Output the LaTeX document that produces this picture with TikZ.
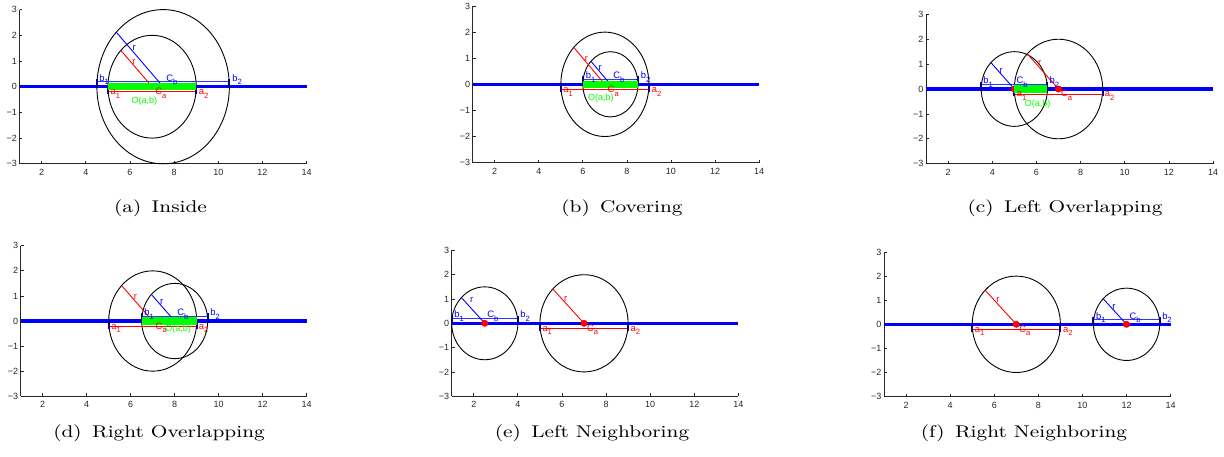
\documentclass[tikz,border=0pt]{standalone}
\usepackage{graphicx}
\usepackage{fontspec}
\newfontfamily\plotfont{Liberation Sans}
\usepackage{tikz}
\usetikzlibrary{positioning}
\definecolor{axisgray}{HTML}{262626}
\definecolor{barblue}{HTML}{00008C}
\definecolor{ovgreen}{HTML}{00FF00}

\newcommand\lsub[1]{\raisebox{-1.9pt}{\fontsize{3.8}{4}\selectfont #1}}
% axes, ticks and tick labels of one panel
\newcommand\panelaxes[1]{%
  \draw[axisline] (1,-3) -- (14,-3);
  \draw[axisline] (1,-3) -- (1,3);
  \foreach \t in {2,4,...,14} {
    \draw[axisline] (\t,-3) -- ++(0pt,1.4pt);
    \node[ticklbl, yshift=-4.3pt] (#1-xt\t) at (\t,-3) {\t};
  }
  \foreach \t/\s in {-3/−3,-2/−2,-1/−1,0/0,1/1,2/2,3/3} {
    \draw[axisline] (1,\t) -- ++(1.4pt,0pt);
    \node[ticklbl, anchor=east, xshift=-1.1pt] (#1-yt\t) at (1,\t) {\s};
  }
  \draw[mainline] (1,0) -- (14,0);
}

\begin{document}
\begin{tikzpicture}[
 axisline/.style={draw=axisgray, line width=0.4pt},
 ticklbl/.style={font=\plotfont\fontsize{4.5}{5}\selectfont, text=axisgray, inner sep=0pt},
 mainline/.style={blue, line width=1.65pt},
 circ/.style={black, line width=0.45pt},
 bline/.style={blue!80, line width=0.45pt},
 aline/.style={red, line width=0.45pt},
 endbar/.style={barblue, line width=1pt},
 ovbar/.style={ovgreen, line width=3.65pt},
 lbl/.style={font=\plotfont\fontsize{4.7}{5}\selectfont, inner sep=0pt, anchor=base west},
 rlbl/.style={font=\plotfont\fontsize{4.7}{5}\selectfont, inner sep=0pt},
 olbl/.style={font=\plotfont\fontsize{4.5}{5}\selectfont, inner sep=0pt, text=ovgreen},
 captext/.style={font=\fontsize{8.5}{10}\selectfont, anchor=base, inner sep=0pt}]
\useasboundingbox (0pt,0pt) rectangle (612pt,-228pt);

% (a) Inside
\begin{scope}[shift={(-1.24pt,-43.35pt)}, x=11.04pt, y=12.85pt]
\panelaxes{a}
\draw[circ] (7,0) circle[radius=2];
\draw[circ] (7.5,0) circle[radius=3];
\draw[bline] (4.5,0.2) -- (10.5,0.2);
\draw[aline] (5,-0.2) -- (9,-0.2);
\draw[endbar] (4.5,-0.03) -- (4.5,0.3) (10.5,-0.03) -- (10.5,0.3);
\draw[endbar] (5,0.03) -- (5,-0.3) (9,0.03) -- (9,-0.3);
\draw[aline] (7,0) ++(135:2) -- (7,0);
\draw[bline, blue] (7.5,0) ++(135:3) -- (7.5,0);
\draw[ovbar] (5,0) -- (9,0);
\node[lbl, text=blue] (a-b1) at (4.6,0.22) {b\lsub{1}};
\node[lbl, text=blue] (a-b2) at (10.62,0.22) {b\lsub{2}};
\node[lbl, text=blue] (a-cb) at (7.63,0.22) {C\lsub{b}};
\node[lbl, text=red] (a-a1) at (5.1,-0.32) {a\lsub{1}};
\node[lbl, text=red] (a-a2) at (9.1,-0.32) {a\lsub{2}};
\node[lbl, text=red] (a-ca) at (7.13,-0.32) {C\lsub{a}};
\node[olbl] (a-o) at (6.65,-0.57) {O(a,b)};
\node[rlbl, text=red] (a-ra) at (6.18,0.96) {r};
\node[rlbl, text=blue] (a-rb) at (6.19,1.49) {r};
\end{scope}

% (b) Covering
\begin{scope}[shift={(225.335pt,-42.15pt)}, x=11.015pt, y=13.05pt]
\panelaxes{b}
\draw[circ] (7,0) circle[radius=2];
\draw[circ] (7.25,0) circle[radius=1.25];
\draw[bline] (6,0.2) -- (8.5,0.2);
\draw[aline] (5,-0.2) -- (9,-0.2);
\draw[endbar] (6,-0.03) -- (6,0.3) (8.5,-0.03) -- (8.5,0.3);
\draw[endbar] (5,0.03) -- (5,-0.3) (9,0.03) -- (9,-0.3);
\draw[aline] (7,0) ++(135:2) -- (7,0);
\draw[bline, blue] (7.25,0) ++(135:1.25) -- (7.25,0);
\draw[ovbar] (6,0) -- (8.5,0);
\node[lbl, text=blue] (b-b1) at (6.12,0.22) {b\lsub{1}};
\node[lbl, text=blue] (b-b2) at (8.62,0.22) {b\lsub{2}};
\node[lbl, text=blue] (b-cb) at (7.37,0.22) {C\lsub{b}};
\node[lbl, text=red] (b-a1) at (5.1,-0.32) {a\lsub{1}};
\node[lbl, text=red] (b-a2) at (9.12,-0.32) {a\lsub{2}};
\node[lbl, text=red] (b-ca) at (7.11,-0.32) {C\lsub{a}};
\node[olbl] (b-o) at (6.82,-0.54) {O(a,b)};
\node[rlbl, text=red] (b-ra) at (6.16,0.98) {r};
\node[rlbl, text=blue] (b-rb) at (6.79,0.61) {r};
\end{scope}

% (c) Left Overlapping
\begin{scope}[shift={(451.96pt,-44.5pt)}, x=11.04pt, y=12.45pt]
\panelaxes{c}
\draw[circ] (7,0) circle[radius=2];
\draw[circ] (5,0) circle[radius=1.5];
\draw[bline] (3.5,0.2) -- (6.5,0.2);
\draw[aline] (5,-0.2) -- (9,-0.2);
\draw[endbar] (3.5,-0.03) -- (3.5,0.3) (6.5,-0.03) -- (6.5,0.3);
\draw[endbar] (5,0.03) -- (5,-0.3) (9,0.03) -- (9,-0.3);
\draw[aline] (7,0) ++(135:2) -- (7,0);
\draw[bline, blue] (5,0) ++(135:1.5) -- (5,0);
\fill[red] (5,0) circle[radius=1.75pt] (7,0) circle[radius=1.75pt];
\draw[ovbar] (5,0) -- (6.5,0);
\node[lbl, text=blue] (c-b1) at (3.58,0.22) {b\lsub{1}};
\node[lbl, text=blue] (c-b2) at (6.58,0.22) {b\lsub{2}};
\node[lbl, text=blue] (c-cb) at (5.08,0.22) {C\lsub{b}};
\node[lbl, text=red] (c-a1) at (5.1,-0.32) {a\lsub{1}};
\node[lbl, text=red] (c-a2) at (9.08,-0.32) {a\lsub{2}};
\node[lbl, text=red] (c-ca) at (7.1,-0.32) {C\lsub{a}};
\node[olbl] (c-o) at (6.05,-0.6) {O(a,b)};
\node[rlbl, text=red] (c-ra) at (6.15,1.04) {r};
\node[rlbl, text=blue] (c-rb) at (4.41,0.74) {r};
\end{scope}

% (d) Right Overlapping
\begin{scope}[shift={(-0.65pt,-160.5pt)}, x=11pt, y=12.54pt]
\panelaxes{d}
\draw[circ] (7,0) circle[radius=2];
\draw[circ] (8,0) circle[radius=1.5];
\draw[bline] (6.5,0.2) -- (9.5,0.2);
\draw[aline] (5,-0.2) -- (9,-0.2);
\draw[endbar] (6.5,-0.03) -- (6.5,0.3) (9.5,-0.03) -- (9.5,0.3);
\draw[endbar] (5,0.03) -- (5,-0.3) (9,0.03) -- (9,-0.3);
\draw[aline] (7,0) ++(135:2) -- (7,0);
\draw[bline, blue] (8,0) ++(135:1.5) -- (8,0);
\draw[ovbar] (6.5,0) -- (9,0);
\node[lbl, text=blue] (d-b1) at (6.6,0.22) {b\lsub{1}};
\node[lbl, text=blue] (d-b2) at (9.6,0.22) {b\lsub{2}};
\node[lbl, text=blue] (d-cb) at (8.1,0.22) {C\lsub{b}};
\node[lbl, text=red] (d-a1) at (5.1,-0.32) {a\lsub{1}};
\node[lbl, text=red] (d-a2) at (9.08,-0.32) {a\lsub{2}};
\node[lbl, text=red] (d-ca) at (7.12,-0.32) {C\lsub{a}};
\node[olbl] (d-o) at (8.16,-0.34) {O(a,b)};
\node[rlbl, text=red] (d-ra) at (6.22,0.97) {r};
\node[rlbl, text=blue] (d-rb) at (7.41,0.77) {r};
\end{scope}

% (e) Left Neighboring
\begin{scope}[shift={(214.825pt,-161.65pt)}, x=11.025pt, y=12.15pt]
\panelaxes{e}
\draw[circ] (7,0) circle[radius=2];
\draw[circ] (2.5,0) circle[radius=1.5];
\draw[bline] (1,0.2) -- (4,0.2);
\draw[aline] (5,-0.2) -- (9,-0.2);
\draw[endbar] (1,-0.03) -- (1,0.3) (4,-0.03) -- (4,0.3);
\draw[endbar] (5,0.03) -- (5,-0.3) (9,0.03) -- (9,-0.3);
\draw[aline] (7,0) ++(135:2) -- (7,0);
\draw[bline, blue] (2.5,0) ++(135:1.5) -- (2.5,0);
\fill[red] (2.5,0) circle[radius=1.75pt] (7,0) circle[radius=1.75pt];
\node[lbl, text=blue] (e-b1) at (1.1,0.22) {b\lsub{1}};
\node[lbl, text=blue] (e-b2) at (4.1,0.22) {b\lsub{2}};
\node[lbl, text=blue] (e-cb) at (2.6,0.22) {C\lsub{b}};
\node[lbl, text=red] (e-a1) at (5.1,-0.32) {a\lsub{1}};
\node[lbl, text=red] (e-a2) at (9.1,-0.32) {a\lsub{2}};
\node[lbl, text=red] (e-ca) at (7.12,-0.32) {C\lsub{a}};
\node[rlbl, text=red] (e-ra) at (6.17,1) {r};
\node[rlbl, text=blue] (e-rb) at (1.91,0.97) {r};
\end{scope}

% (f) Right Neighboring
\begin{scope}[shift={(430.975pt,-162.15pt)}, x=11.025pt, y=12.05pt]
\panelaxes{f}
\draw[circ] (7,0) circle[radius=2];
\draw[circ] (12,0) circle[radius=1.5];
\draw[bline] (10.5,0.2) -- (13.5,0.2);
\draw[aline] (5,-0.2) -- (9,-0.2);
\draw[endbar] (10.5,-0.03) -- (10.5,0.3) (13.5,-0.03) -- (13.5,0.3);
\draw[endbar] (5,0.03) -- (5,-0.3) (9,0.03) -- (9,-0.3);
\draw[aline] (7,0) ++(135:2) -- (7,0);
\draw[bline, blue] (12,0) ++(135:1.5) -- (12,0);
\fill[red] (7,0) circle[radius=1.75pt] (12,0) circle[radius=1.75pt];
\node[lbl, text=blue] (f-b1) at (10.6,0.22) {b\lsub{1}};
\node[lbl, text=blue] (f-b2) at (13.6,0.22) {b\lsub{2}};
\node[lbl, text=blue] (f-cb) at (12.12,0.22) {C\lsub{b}};
\node[lbl, text=red] (f-a1) at (5.1,-0.32) {a\lsub{1}};
\node[lbl, text=red] (f-a2) at (9.1,-0.32) {a\lsub{2}};
\node[lbl, text=red] (f-ca) at (7.12,-0.32) {C\lsub{a}};
\node[rlbl, text=red] (f-ra) at (6.17,1) {r};
\node[rlbl, text=blue] (f-rb) at (11.43,0.72) {r};
\end{scope}

\node[captext] (capa) at (80.25pt,-106pt) {\scalebox{1.22}[1]{(a)\hspace{0.5em}Inside}};
\node[captext] (capb) at (311pt,-106pt) {\scalebox{1.22}[1]{(b)\hspace{0.5em}Covering}};
\node[captext] (capc) at (532.5pt,-106pt) {\scalebox{1.22}[1]{(c)\hspace{0.5em}Left Overlapping}};
\node[captext] (capd) at (79.5pt,-218.5pt) {\scalebox{1.22}[1]{(d)\hspace{0.5em}Right Overlapping}};
\node[captext] (cape) at (296pt,-218.5pt) {\scalebox{1.22}[1]{(e)\hspace{0.5em}Left Neighboring}};
\node[captext] (capf) at (512pt,-218.5pt) {\scalebox{1.22}[1]{(f)\hspace{0.5em}Right Neighboring}};
\end{tikzpicture}
\end{document}
